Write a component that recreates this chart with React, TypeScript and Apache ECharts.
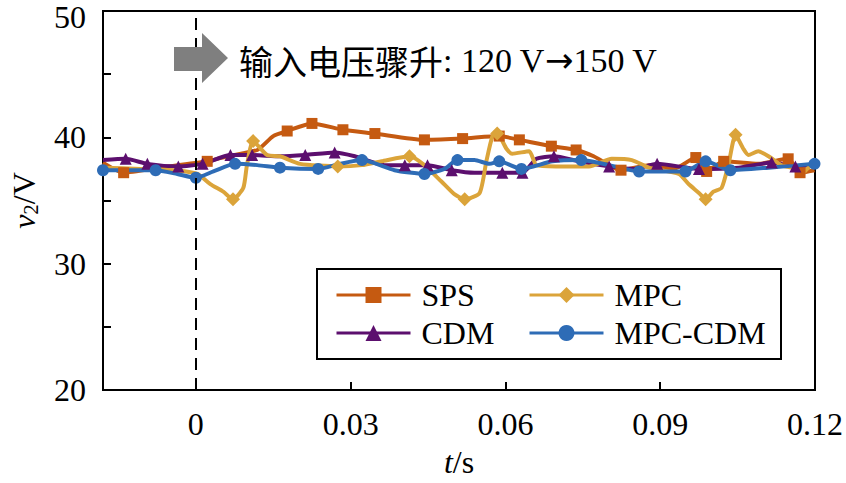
import React, { useEffect, useRef } from "react";
import * as echarts from "echarts";

// ---- data (t in s, v2 in V) ----
const spsT = [-0.018, -0.014, -0.0069, 0.0022, 0.0061, 0.0119, 0.015, 0.0177, 0.0225, 0.0285, 0.0347, 0.0443, 0.0517, 0.0588, 0.0627, 0.0689, 0.0737, 0.0771, 0.0824, 0.0878, 0.0926, 0.0969, 0.099, 0.1023, 0.109, 0.1148, 0.1171, 0.1199];
const spsV = [38.0, 37.2, 37.6, 38.1, 38.5, 39.0, 40.1, 40.5, 41.1, 40.6, 40.3, 39.8, 39.9, 40.1, 39.8, 39.3, 39.0, 38.5, 37.4, 37.8, 37.5, 38.4, 37.3, 38.1, 37.9, 38.3, 37.2, 37.4];
const spsMarks = [1, 3, 7, 8, 9, 10, 11, 12, 13, 14, 15, 16, 18, 21, 22, 23, 25, 26];

const mpcT = [-0.018, -0.0107, -0.004, 0.0003, 0.0028, 0.0053, 0.0072, 0.0092, 0.0099, 0.0111, 0.0138, 0.0163, 0.0202, 0.0275, 0.0322, 0.036, 0.0414, 0.0443, 0.0476, 0.0501, 0.0521, 0.055, 0.0563, 0.0575, 0.0584, 0.0602, 0.0613, 0.0646, 0.066, 0.0698, 0.0762, 0.0806, 0.0845, 0.0878, 0.0936, 0.0955, 0.0975, 0.0988, 0.1003, 0.1019, 0.1032, 0.1046, 0.1061, 0.1071, 0.109, 0.111, 0.1135, 0.1162, 0.1174, 0.1193, 0.12];
const mpcV = [37.6, 37.5, 37.4, 37.1, 36.3, 35.7, 35.1, 36.0, 37.8, 39.7, 38.6, 38.5, 37.9, 37.7, 37.8, 38.1, 38.5, 37.8, 36.5, 35.5, 35.1, 35.6, 38.1, 40.1, 40.3, 39.1, 38.7, 38.9, 37.8, 37.7, 37.7, 38.3, 38.2, 37.6, 37.1, 36.3, 35.6, 35.1, 35.7, 36.0, 37.8, 40.2, 39.1, 38.6, 38.9, 38.5, 37.8, 37.5, 37.1, 37.8, 37.8];
const mpcMarks = [6, 9, 13, 16, 20, 24, 37, 41];

const cdmT = [-0.018, -0.0136, -0.0094, -0.0034, 0.0013, 0.0067, 0.0109, 0.0163, 0.0212, 0.0269, 0.0308, 0.0366, 0.0405, 0.0449, 0.0496, 0.054, 0.0594, 0.0633, 0.066, 0.0694, 0.0743, 0.0801, 0.0849, 0.0894, 0.0975, 0.1052, 0.1116, 0.1162, 0.12];
const cdmV = [38.2, 38.3, 37.9, 37.7, 37.9, 38.6, 38.6, 38.5, 38.6, 38.8, 38.5, 37.8, 37.8, 37.8, 37.4, 37.2, 37.2, 37.2, 38.3, 38.5, 38.1, 37.7, 37.5, 37.9, 37.5, 37.6, 38.0, 37.7, 37.8];
const cdmMarks = [1, 2, 3, 4, 5, 6, 8, 9, 12, 13, 14, 16, 17, 19, 21, 23, 24, 26, 27];

const mcT = [-0.018, -0.0127, -0.0078, -0.0036, 0.0, 0.0034, 0.0076, 0.0119, 0.0163, 0.0237, 0.0279, 0.0322, 0.0385, 0.0443, 0.0482, 0.0507, 0.054, 0.0569, 0.0588, 0.0631, 0.0691, 0.0747, 0.0801, 0.0859, 0.0949, 0.0988, 0.1036, 0.111, 0.1199];
const mcV = [37.4, 37.4, 37.4, 37.1, 36.8, 37.3, 37.9, 37.8, 37.6, 37.5, 37.9, 38.2, 37.4, 37.1, 37.5, 38.2, 38.2, 37.9, 38.1, 37.5, 38.1, 38.2, 37.8, 37.3, 37.3, 38.1, 37.4, 37.6, 37.9];
const mcMarks = [0, 2, 4, 6, 8, 9, 11, 13, 15, 18, 19, 21, 23, 24, 25, 26, 28];

const xTicks = [0, 0.03, 0.06, 0.09, 0.12];
const seriesNames = ["SPS", "MPC", "CDM", "MPC-CDM"];
const annotationCn = "输入电压骤升";
const annotationFrom = ": 120 V";
const annotationTo = "150 V";

const FONT = "'Liberation Serif', 'Times New Roman', serif";
const CJK = "'Noto Sans CJK SC', sans-serif";

function build(ts: number[], vs: number[], marks: number[]) {
  return ts.map((t, i) => {
    const item: any = { value: [t, vs[i]] };
    if (marks.indexOf(i) < 0) item.symbol = "none";
    return item;
  });
}

export default function App() {
  const ref = useRef<HTMLDivElement>(null);
  useEffect(() => {
    if (!ref.current) return;
    const chart = echarts.init(ref.current, null, { renderer: "svg" });
    const colors = ["#C55A11", "#DBA43A", "#5C0F6E", "#2E6CB6"];
    const mk = (name: string, data: any[], color: string, symbol: string, size: number, extra: any = {}) => ({
      name,
      type: "line",
      data,
      smooth: 0.2,
      symbol,
      symbolSize: size,
      showAllSymbol: true,
      lineStyle: { color, width: 4 },
      itemStyle: { color },
      ...extra,
    });
    const legendText = { fontFamily: FONT, fontSize: 32, color: "#000", lineHeight: 34, padding: [0, 0, 0, 6] };
    const legendCommon = {
      orient: "vertical",
      top: 273,
      itemWidth: 74,
      itemHeight: 20,
      itemGap: 4,
      z: 10,
      lineStyle: { width: 3 },
      textStyle: legendText,
    };
    chart.setOption({
      animation: false,
      backgroundColor: "#fff",
      grid: { left: 102, right: 29, top: 11, bottom: 92, show: true, borderColor: "#000", borderWidth: 2 },
      xAxis: {
        type: "value",
        min: -0.018,
        max: 0.12,
        name: "{i|t}{n|/s}",
        nameLocation: "middle",
        nameGap: 56,
        nameTextStyle: {
          rich: {
            i: { fontFamily: FONT, fontSize: 32, fontStyle: "italic", color: "#000" },
            n: { fontFamily: FONT, fontSize: 32, color: "#000" },
          },
        },
        axisLine: { onZero: false, lineStyle: { color: "#000", width: 2 } },
        axisTick: { inside: true, length: 8, lineStyle: { color: "#000", width: 2 }, customValues: xTicks },
        axisLabel: {
          customValues: xTicks,
          margin: 18,
          fontFamily: FONT,
          fontSize: 32,
          color: "#000",
          formatter: (v: number) => (Math.abs(v) < 1e-9 ? "0" : String(Math.round(v * 100) / 100)),
        },
        splitLine: { show: false },
      },
      yAxis: {
        type: "value",
        min: 20,
        max: 50,
        interval: 5,
        name: "{i|v}{s|2}{n|/V}",
        nameLocation: "middle",
        nameRotate: 90,
        nameGap: 62,
        nameTextStyle: {
          rich: {
            i: { fontFamily: FONT, fontSize: 32, fontStyle: "italic", color: "#000", lineHeight: 34 },
            s: { fontFamily: FONT, fontSize: 21, color: "#000", verticalAlign: "bottom", lineHeight: 26, padding: [10, 0, 0, 0] },
            n: { fontFamily: FONT, fontSize: 32, color: "#000", lineHeight: 34 },
          },
        },
        axisLine: { onZero: false, lineStyle: { color: "#000", width: 2 } },
        axisTick: { inside: true, length: 8, lineStyle: { color: "#000", width: 2 } },
        axisLabel: {
          margin: 17,
          fontFamily: FONT,
          fontSize: 32,
          color: "#000",
          formatter: (v: number) => (v === 50 ? "{t|50}" : v % 10 === 0 ? String(v) : ""),
          rich: {
            t: { fontFamily: FONT, fontSize: 32, color: "#000", padding: [12, 0, 0, 0] },
          },
        },
        splitLine: { show: false },
      },
      legend: [
        { ...legendCommon, data: [seriesNames[0], seriesNames[2]], left: 330 },
        { ...legendCommon, data: [seriesNames[1], seriesNames[3]], left: 523 },
      ],
      graphic: [
        {
          type: "rect",
          shape: { x: 317, y: 269, width: 464, height: 90 },
          style: { fill: "#fff", stroke: "#000", lineWidth: 2 },
          z: 3,
        },
        {
          type: "polygon",
          shape: { points: [[174, 47], [202, 47], [202, 33], [228, 58], [202, 83], [202, 71], [174, 71]] },
          style: { fill: "#7F7F7F" },
          z: 10,
        },
        {
          type: "text",
          x: 239,
          y: 60,
          style: {
            text: "{c|" + annotationCn + "}{l|" + annotationFrom + "}{a|→}{l|" + annotationTo + "}",
            verticalAlign: "middle",
            rich: {
              c: { fontFamily: CJK, fontSize: 34, fill: "#000" },
              l: { fontFamily: FONT, fontSize: 34, fill: "#000" },
              a: { fontFamily: "'DejaVu Sans', sans-serif", fontSize: 34, fill: "#000" },
            },
          },
          z: 10,
        },
      ],
      series: [
        mk(seriesNames[0], build(spsT, spsV, spsMarks), colors[0], "rect", 11, {
          markLine: {
            silent: true,
            symbol: ["none", "none"],
            label: { show: false },
            lineStyle: { color: "#000", type: [12, 8], width: 2 },
            data: [{ xAxis: 0 }],
          },
        }),
        mk(seriesNames[2], build(cdmT, cdmV, cdmMarks), colors[2], "triangle", 12),
        mk(seriesNames[1], build(mpcT, mpcV, mpcMarks), colors[1], "diamond", 14),
        mk(seriesNames[3], build(mcT, mcV, mcMarks), colors[3], "circle", 12),
      ],
    });
    return () => chart.dispose();
  }, []);
  return <div ref={ref} style={{ width: 846, height: 483, position: "absolute", left: 0, top: 0 }} />;
}
